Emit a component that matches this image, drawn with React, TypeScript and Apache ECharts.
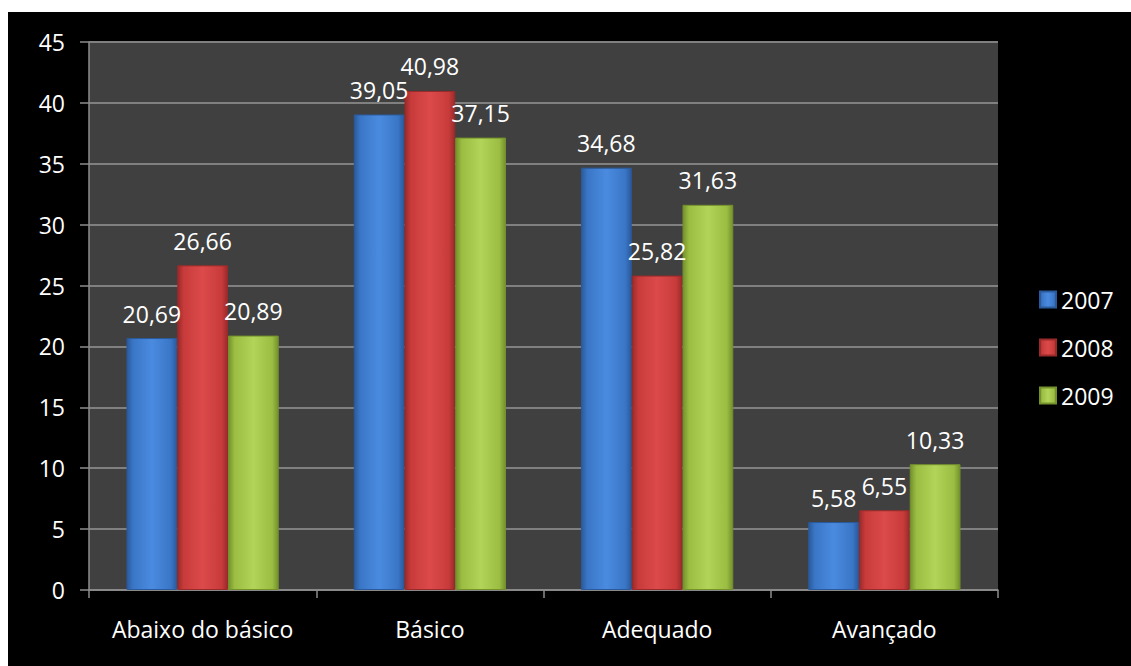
import React, { useEffect, useRef } from "react";
import * as echarts from "echarts";

const categories = ["Abaixo do básico", "Básico", "Adequado", "Avançado"];
const seriesNames = ["2007", "2008", "2009"];
const values2007 = [20.69, 39.05, 34.68, 5.58];
const values2008 = [26.66, 40.98, 25.82, 6.55];
const values2009 = [20.89, 37.15, 31.63, 10.33];
const yTicks = { min: 0, max: 45, interval: 5 };

const palette = [
  { light: "#4a8be0", mid: "#3a76c6", dark: "#2a5a9c" },
  { light: "#dc4a4a", mid: "#c83b3b", dark: "#9a2a2a" },
  { light: "#b2d458", mid: "#9abd42", dark: "#74912c" },
];

const FONT = "Open Sans";
const FS = 23;

function barColor(i: number) {
  const p = palette[i];
  return new echarts.graphic.LinearGradient(0, 0, 1, 0, [
    { offset: 0, color: p.dark },
    { offset: 0.12, color: p.mid },
    { offset: 0.5, color: p.light },
    { offset: 0.88, color: p.mid },
    { offset: 1, color: p.dark },
  ]);
}

export default function App() {
  const ref = useRef<HTMLDivElement>(null);
  useEffect(() => {
    if (!ref.current) return;
    const chart = echarts.init(ref.current, undefined, { renderer: "svg" });
    const data = [values2007, values2008, values2009];
    chart.setOption({
      animation: false,
      backgroundColor: "#000000",
      textStyle: { fontFamily: FONT },
      legend: {
        orient: "vertical",
        left: 1026,
        top: 271,
        itemWidth: 16,
        itemHeight: 16,
        itemGap: 25,
        icon: "rect",
        data: seriesNames,
        textStyle: { color: "#ffffff", fontSize: FS, lineHeight: 23, fontFamily: FONT, padding: [0, 0, 0, 0] },
      },
      grid: {
        left: 81,
        top: 30,
        width: 909,
        height: 548,
        show: true,
        backgroundColor: "#404040",
        borderWidth: 0,
        containLabel: false,
      },
      xAxis: {
        type: "category",
        data: categories,
        axisLine: { show: true, lineStyle: { color: "#8c8c8c", width: 1.5 } },
        axisTick: { show: true, length: 8, interval: 0, lineStyle: { color: "#8c8c8c", width: 1.5 } },
        axisLabel: { color: "#ffffff", fontSize: FS, margin: 27, fontFamily: FONT, interval: 0 },
      },
      yAxis: {
        type: "value",
        min: yTicks.min,
        max: yTicks.max,
        interval: yTicks.interval,
        axisLine: { show: true, lineStyle: { color: "#8c8c8c", width: 1.5 } },
        axisTick: { show: true, length: 9, lineStyle: { color: "#8c8c8c", width: 1.5 } },
        axisLabel: { color: "#ffffff", fontSize: FS, margin: 24, fontFamily: FONT },
        splitLine: { show: true, lineStyle: { color: "#808080", width: 2 } },
      },
      series: seriesNames.map((name, i) => ({
        name,
        type: "bar",
        data: data[i],
        barGap: "0%",
        barCategoryGap: "33%",
        itemStyle: {
          color: barColor(i),
          borderColor: palette[i].dark,
          borderWidth: 1,
        },
        label: {
          show: true,
          position: "top",
          distance: 13,
          color: "#ffffff",
          fontSize: FS,
          fontFamily: FONT,
          formatter: (p: any) => p.value.toFixed(2).replace(".", ","),
        },
      })),
    });
    return () => chart.dispose();
  }, []);
  return (
    <div
      ref={ref}
      style={{ position: "absolute", left: 8, top: 12, width: 1123, height: 654 }}
    />
  );
}
